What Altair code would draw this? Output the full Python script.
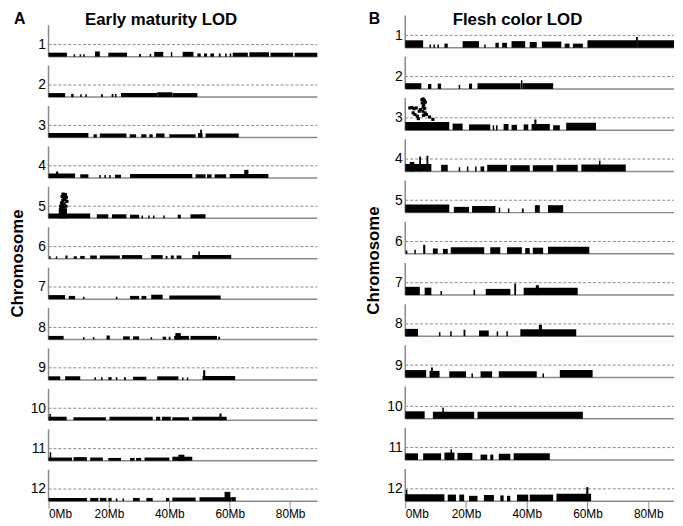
import altair as alt
import pandas as pd

FONT = "Liberation Sans"
GRAY = "#8a8a8a"
CHROMS = list(range(1, 13))
THRESHOLD = 3.0
AXIS_TOP = 7.8
ROW_STEP = 10
X_TICKS = [0, 20, 40, 60, 80]

# ---- Panel A: Early maturity LOD, marker clusters (start Mb, end Mb, LOD) ----
A_CHR1 = [(0, 6.1, 1.0), (8.3, 8.8, 0.6), (10.3, 10.8, 0.6), (11.5, 12, 0.6), (15.4, 17, 1.3),
          (19.8, 26, 1.0), (30, 30.6, 0.7), (33.5, 34, 0.7), (35, 38, 1.2), (40.5, 41, 1.1),
          (44.4, 48, 1.2), (49.3, 50.4, 0.8), (51.5, 52.5, 0.8), (53.6, 54.8, 0.8), (56.4, 57, 0.8),
          (58.5, 59, 0.8), (60, 60.5, 0.8), (61, 66, 1.0), (66.5, 73, 1.1), (73.5, 81, 1.0), (81.5, 89, 1.0)]
A_CHR2 = [(0, 5.5, 1.0), (7.5, 8.3, 0.8), (10.5, 11, 0.7), (12.2, 12.7, 0.7), (17.4, 18, 0.7),
          (20.9, 21.5, 0.8), (22, 22.5, 0.8), (24, 36, 1.0), (36, 41, 1.2), (41, 49.3, 1.0)]
A_CHR3 = [(0, 13.2, 1.1), (14.9, 16, 0.8), (17, 25.8, 1.0), (26.9, 29, 0.8), (30.7, 32.4, 0.8),
          (33.4, 34.5, 0.8), (35.6, 38.4, 1.0), (40, 48.7, 0.8), (49.5, 51, 1.1), (50.2, 50.8, 1.9),
          (52, 63, 1.0)]
A_CHR4 = [(0, 8.8, 1.1), (2.5, 3.2, 1.6), (10.5, 13.2, 0.9), (16.8, 17.3, 0.7), (18.5, 19, 0.7),
          (20.1, 20.6, 0.7), (22, 24, 0.8), (27, 47.6, 1.0), (48.7, 52, 0.9), (52.5, 54, 0.9),
          (55, 58.8, 0.9), (60, 72.8, 1.0), (64.8, 66.2, 2.0)]
A_CHR5 = [(0, 13.8, 1.2), (3.4, 6.1, 2.5), (16, 19.8, 1.0), (21, 25.8, 1.0), (27, 30, 0.9),
          (30.8, 31.3, 0.7), (33, 33.5, 0.7), (34.6, 35.1, 0.7), (38, 38.5, 0.7), (42.8, 43.8, 0.9),
          (47, 52, 1.0)]
A_CHR6 = [(0.2, 0.7, 0.6), (2.4, 2.9, 0.6), (5.6, 6.3, 0.8), (8.3, 9.4, 0.6), (10.5, 12, 0.7),
          (13.8, 16, 0.8), (17, 23.6, 0.8), (24.3, 31, 0.9), (34, 37.8, 0.9), (38.8, 39.4, 0.7),
          (40.5, 41.5, 0.8), (42.4, 44, 0.8), (47.6, 60.5, 0.9), (49.6, 50.1, 1.8)]
A_CHR7 = [(0, 5.5, 1.0), (6.7, 8.8, 0.8), (11.4, 11.9, 0.6), (22.3, 22.8, 0.6), (27, 30, 0.8),
          (30.8, 32.4, 0.8), (34, 37.8, 1.1), (40, 57, 0.9)]
A_CHR8 = [(0, 5, 0.9), (11.4, 11.9, 0.6), (14.7, 15.2, 0.6), (19.2, 20.3, 1.0), (24.7, 26.9, 0.8),
          (28, 30, 0.8), (33.8, 34.3, 0.6), (37.8, 38.9, 0.7), (39.8, 40.4, 0.7), (41.6, 46.5, 0.9),
          (42, 43.8, 1.6), (47, 55.8, 0.9), (56.2, 56.8, 0.7)]
A_CHR9 = [(0, 3.9, 0.9), (5.5, 10.5, 0.9), (15.2, 15.7, 0.7), (17.4, 17.9, 0.7), (19.8, 20.9, 0.7),
          (22.3, 22.8, 0.7), (25, 25.6, 0.7), (28, 32.4, 0.8), (36, 43, 0.9), (44.2, 44.7, 0.6),
          (45.8, 46.3, 0.6), (51, 61.8, 1.0), (51.2, 51.9, 2.4)]
A_CHR10 = [(0, 6, 0.9), (0.3, 0.8, 1.6), (8.3, 19, 0.8), (20.2, 34.5, 0.9), (35.6, 37, 0.9),
           (37.6, 40.5, 0.9), (41, 46.5, 0.8), (47.6, 59, 0.9), (56.6, 57.3, 1.7)]
A_CHR11 = [(0, 7.8, 0.8), (0.4, 0.9, 2.1), (8.3, 12.7, 0.9), (13.8, 18, 0.8), (19.8, 24, 0.7),
           (27, 28.5, 0.7), (29, 30.7, 0.7), (31.8, 40, 0.8), (41, 47.6, 1.0), (43, 45, 1.5)]
A_CHR12 = [(0, 12.7, 0.8), (13.8, 16.5, 0.8), (17, 19.2, 0.8), (19.8, 20.9, 0.8), (22.3, 22.8, 0.7),
           (24.5, 25, 0.7), (28, 30.2, 0.8), (32.4, 34.5, 0.8), (38.9, 40, 0.8), (41, 48.7, 0.9),
           (50, 60.5, 1.0), (58.3, 60.2, 2.3), (60.5, 62, 1.0)]
A_CLUSTERS = [A_CHR1, A_CHR2, A_CHR3, A_CHR4, A_CHR5, A_CHR6,
              A_CHR7, A_CHR8, A_CHR9, A_CHR10, A_CHR11, A_CHR12]
# peak markers on chromosome 5 (panel A)
A_PEAK_CHROM = 5
A_PEAK_POS = [4.0, 4.3, 4.7, 5.0, 5.3, 5.6, 5.9, 6.1, 4.2, 5.8, 4.5, 5.5, 4.8, 5.2, 5.0, 4.6]
A_PEAK_LOD = [3.0, 3.8, 4.4, 5.0, 5.6, 5.9, 5.2, 4.2, 2.6, 3.0, 5.4, 4.6, 6.0, 3.6, 2.8, 3.2]

# ---- Panel B: Flesh color LOD ----
B_CHR1 = [(0, 5.9, 1.8), (8, 8.5, 0.8), (9.3, 9.8, 0.8), (10.6, 11.1, 0.8), (12.9, 14, 1.0),
          (18.9, 24.3, 1.6), (26, 26.5, 0.8), (29.7, 30.8, 1.2), (31.9, 33.5, 1.2), (35, 39.5, 1.6),
          (41, 43.3, 1.4), (45, 51.4, 1.5), (52.5, 54.1, 1.0), (55.2, 58.5, 1.0), (60, 76, 1.8),
          (76, 76.6, 2.6), (76.6, 88.5, 1.8)]
B_CHR2 = [(0, 5.3, 1.4), (7.5, 8.6, 1.2), (10.7, 11.8, 1.3), (17.6, 18.1, 1.0), (21, 22, 1.3),
          (23.8, 38, 1.4), (38.1, 38.6, 2.1), (38.6, 48.7, 1.4)]
B_CHR3 = [(0, 14.5, 2.0), (15.6, 18.9, 1.6), (21, 28, 1.4), (28.8, 29.3, 1.2), (29.9, 30.4, 1.2),
          (32.4, 34, 1.5), (35, 36.8, 1.3), (39, 40.5, 1.4), (41.6, 47.6, 1.5), (42.5, 43.2, 2.6),
          (48.7, 50.9, 1.2), (53, 62.8, 1.8)]
B_CHR4 = [(0, 8.6, 1.8), (1.5, 3, 2.3), (4.6, 5.2, 3.6), (7.0, 7.6, 3.8), (11.8, 14, 1.6),
          (17.6, 18.1, 1.0), (20.3, 20.8, 1.2), (23, 23.5, 1.2), (24.8, 26, 1.2), (27, 33.5, 1.6),
          (34.6, 41, 1.5), (42, 48.7, 1.5), (49.8, 56.8, 1.6), (58, 72.6, 1.7), (63.8, 64.3, 2.6)]
B_CHR5 = [(0, 14.5, 2.0), (16, 21, 1.4), (22, 29.7, 1.6), (30.8, 31.3, 1.2), (33.8, 34.3, 1.0),
          (38.4, 39, 1.0), (42.7, 44.3, 1.8), (47, 52, 1.8)]
B_CHR6 = [(0.2, 0.7, 0.8), (3, 3.5, 1.0), (5.9, 6.6, 2.2), (9.1, 10.7, 1.3), (12.4, 14, 1.2),
          (15, 26, 1.6), (28, 31.3, 1.6), (33.5, 38.4, 1.6), (39.5, 41, 1.4), (42, 45.4, 1.5),
          (47, 60.6, 1.7)]
B_CHR7 = [(0, 4.8, 2.0), (6.4, 8.6, 1.8), (11.6, 12.1, 1.0), (22.5, 23, 1.3), (26.5, 34.6, 1.5),
          (35.9, 36.5, 2.8), (39, 56.8, 1.8), (43, 44, 2.4)]
B_CHR8 = [(0, 4.2, 1.8), (11.1, 11.6, 1.0), (14.8, 15.3, 1.2), (19.2, 19.8, 1.6), (24.3, 27.5, 1.4),
          (30.1, 30.6, 1.2), (33.3, 33.8, 1.2), (37.9, 56.3, 1.7), (44, 45, 2.8)]
B_CHR9 = [(0, 6.9, 1.8), (8, 11.3, 1.6), (8.5, 9.1, 2.4), (14.5, 20, 1.5), (21.8, 22.3, 1.0),
          (24.8, 28.6, 1.5), (30.8, 43.3, 1.5), (45.2, 45.7, 1.0), (50.9, 61.7, 1.8)]
B_CHR10 = [(0, 6.4, 1.8), (9.1, 22.7, 1.7), (12.2, 12.7, 2.7), (23.8, 58.5, 1.7)]
B_CHR11 = [(0, 4.2, 1.6), (5.9, 11.8, 1.6), (12.9, 16.2, 1.8), (14.9, 15.4, 2.6), (17.2, 22.1, 1.7),
           (24.8, 27, 1.3), (28, 29, 1.3), (30.8, 34.6, 1.5), (35.7, 47.6, 1.6)]
B_CHR12 = [(0, 12.9, 1.7), (0.2, 0.7, 2.8), (14, 16.7, 1.6), (17.8, 19.4, 1.6), (21, 23.8, 1.3),
           (25.9, 29.2, 1.5), (31.3, 32.4, 1.4), (33.5, 34.6, 1.3), (36.8, 40.5, 1.6), (41, 48.7, 1.6),
           (49.8, 61.2, 1.8), (59.6, 60.3, 3.4)]
B_CLUSTERS = [B_CHR1, B_CHR2, B_CHR3, B_CHR4, B_CHR5, B_CHR6,
              B_CHR7, B_CHR8, B_CHR9, B_CHR10, B_CHR11, B_CHR12]
# scattered high markers on chromosome 3 (panel B)
B_PEAK_CHROM = 3
B_PEAK_POS = [1.5, 2.2, 2.9, 3.6, 2.6, 3.2, 4.0, 4.6, 5.0, 5.5, 5.9, 6.3, 5.6, 6.1, 6.6, 5.9,
              6.4, 5.8, 6.5, 6.0, 7.0, 4.3, 8.0, 9.1]
B_PEAK_LOD = [5.4, 5.5, 5.2, 5.4, 4.2, 3.8, 3.4, 4.6, 5.0, 7.4, 7.6, 7.2, 6.6, 6.2, 6.8, 5.6,
              5.3, 4.6, 4.2, 3.6, 3.8, 2.8, 3.2, 2.6]


def cluster_df(clusters):
    rec = []
    for c, cl in zip(CHROMS, clusters):
        base = (12 - c) * ROW_STEP
        for s, e, h in cl:
            rec.append({"chrom": c, "start": s, "end": e, "y0": base, "y1": base + h})
    return pd.DataFrame(rec)


def peak_df(chrom, pos, lod):
    base = (12 - chrom) * ROW_STEP
    return pd.DataFrame({"pos": pos, "y": [base + v for v in lod]})


def rows_df(xmax):
    return pd.DataFrame({
        "chrom": CHROMS,
        "base": [(12 - c) * ROW_STEP for c in CHROMS],
        "thr": [(12 - c) * ROW_STEP + THRESHOLD for c in CHROMS],
        "top": [(12 - c) * ROW_STEP + AXIS_TOP for c in CHROMS],
        "xs": [0] * 12,
        "xe": [xmax] * 12,
    })


def panel(clusters, peaks, title, letter, title_dx, letter_dx, xmax, ymax, width, height, title_y):
    xs = alt.Scale(domain=[0, xmax], nice=False, zero=False)
    ys = alt.Scale(domain=[0, ymax], nice=False, zero=False)
    xaxis = alt.Axis(values=X_TICKS, labelExpr="datum.value + 'Mb'", grid=False, domain=False,
                     ticks=True, tickSize=7, tickColor=GRAY, tickWidth=1, labelFontSize=12,
                     labelFont=FONT, labelColor="black", labelPadding=1, title=None)
    yaxis = alt.Axis(values=[(12 - c) * ROW_STEP + THRESHOLD for c in CHROMS],
                     labelExpr="12 - floor(datum.value / 10)", grid=False, domain=False,
                     ticks=False, tickSize=0, labelFontSize=14, labelFont=FONT,
                     labelColor="black", labelPadding=3, title="Chromosome", titleFontSize=17,
                     titleFont=FONT, titleFontWeight="bold", titleColor="black",
                     titlePadding=4, titleY=title_y)

    def X(f):
        return alt.X(f, scale=xs, axis=xaxis)

    def Y(f):
        return alt.Y(f, scale=ys, axis=yaxis)

    rows = rows_df(xmax)
    base = alt.Chart(rows).mark_rule(color=GRAY, strokeWidth=1.5).encode(
        x=X("xs:Q"), x2="xe:Q", y=Y("base:Q"))
    dashed = alt.Chart(rows).mark_rule(color=GRAY, strokeWidth=1, strokeDash=[3, 2]).encode(
        x=X("xs:Q"), x2="xe:Q", y=Y("thr:Q"))
    vert = alt.Chart(rows).mark_rule(color=GRAY, strokeWidth=1.5).encode(
        x=X("xs:Q"), y=Y("base:Q"), y2="top:Q")
    bars = alt.Chart(cluster_df(clusters)).mark_rect(color="black").encode(
        x=X("start:Q"), x2="end:Q", y=Y("y0:Q"), y2="y1:Q")
    pts = alt.Chart(peaks).mark_point(shape="square", filled=True, size=10, color="black",
                                      opacity=1).encode(x=X("pos:Q"), y=Y("y:Q"))
    ttl = alt.Chart(pd.DataFrame({"t": [title]})).mark_text(
        align="left", baseline="alphabetic", fontSize=17, fontWeight="bold", font=FONT,
        color="black").encode(x=alt.value(title_dx), y=alt.value(14), text="t:N")
    let = alt.Chart(pd.DataFrame({"t": [letter]})).mark_text(
        align="left", baseline="alphabetic", fontSize=16, fontWeight="bold", font=FONT,
        color="black").encode(x=alt.value(letter_dx), y=alt.value(13), text="t:N")
    return alt.layer(base, dashed, vert, bars, pts, ttl, let).properties(width=width, height=height)


chart_a = panel(A_CLUSTERS, peak_df(A_PEAK_CHROM, A_PEAK_POS, A_PEAK_LOD),
                "Early maturity LOD", "A", 37, -35, 89, 121.3, 272, 496, 255)
chart_b = panel(B_CLUSTERS, peak_df(B_PEAK_CHROM, B_PEAK_POS, B_PEAK_LOD),
                "Flesh color LOD", "B", 48, -37, 88.5, 118.9, 272, 496, 252)

chart = alt.hconcat(chart_a, chart_b, spacing=47).properties(
    padding=0, background="white"
).configure_view(stroke=None)

chart.save("out.html", embed_options={"renderer": "svg", "actions": False})
